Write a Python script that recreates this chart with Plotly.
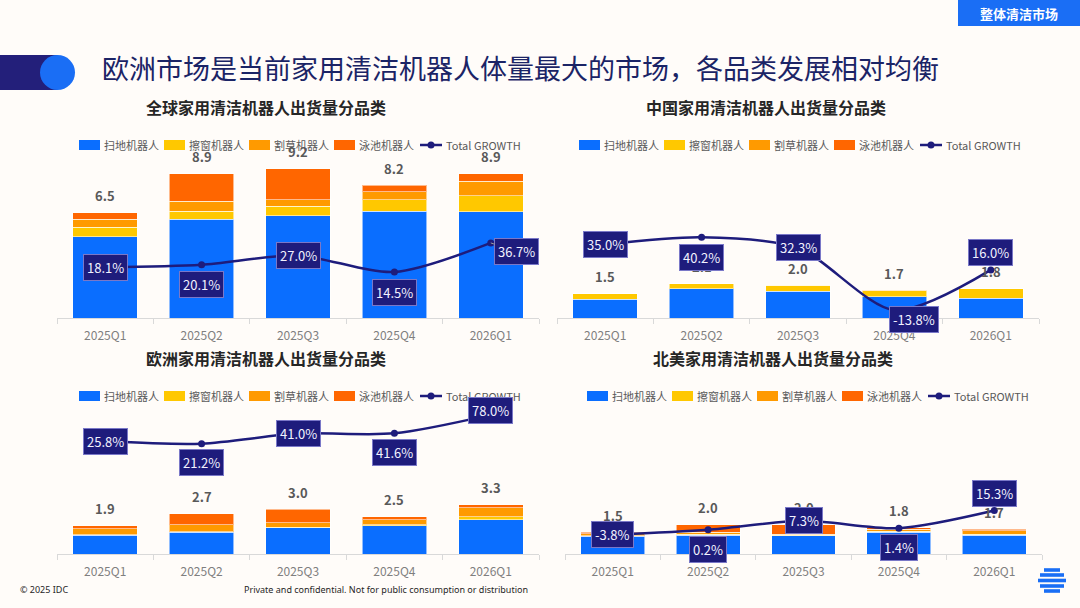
import plotly.graph_objects as go

W, H = 1080, 608
FONT = "Noto Sans CJK SC"

quarters = ["2025Q1", "2025Q2", "2025Q3", "2025Q4", "2026Q1"]
series_names = ["扫地机器人", "擦窗机器人", "割草机器人", "泳池机器人"]
series_colors = ["#0A6EFF", "#FFC800", "#FF9A00", "#FF6600"]

# 全球 (shipments, million units)
global_floor = [5.0, 6.1, 6.3, 6.6, 6.55]
global_window = [0.6, 0.5, 0.6, 0.7, 1.0]
global_lawn = [0.5, 0.6, 0.4, 0.5, 0.9]
global_pool = [0.4, 1.7, 1.9, 0.4, 0.45]
global_total = [6.5, 8.9, 9.2, 8.2, 8.9]
global_growth = [18.1, 20.1, 27.0, 14.5, 36.7]

# 中国
china_floor = [1.15, 1.8, 1.65, 1.3, 1.2]
china_window = [0.35, 0.3, 0.35, 0.38, 0.6]
china_lawn = [0.0, 0.0, 0.0, 0.02, 0.0]
china_pool = [0.0, 0.0, 0.0, 0.0, 0.0]
china_total = [1.5, 2.1, 2.0, 1.7, 1.8]
china_growth = [35.0, 40.2, 32.3, -13.8, 16.0]

# 欧洲
europe_floor = [1.25, 1.45, 1.75, 1.9, 2.3]
europe_window = [0.05, 0.05, 0.05, 0.05, 0.2]
europe_lawn = [0.4, 0.45, 0.3, 0.35, 0.6]
europe_pool = [0.2, 0.75, 0.9, 0.2, 0.2]
europe_total = [1.9, 2.7, 3.0, 2.5, 3.3]
europe_growth = [25.8, 21.2, 41.0, 41.6, 78.0]

# 北美
na_floor = [1.2, 1.3, 1.25, 1.5, 1.3]
na_window = [0.05, 0.05, 0.05, 0.05, 0.05]
na_lawn = [0.15, 0.15, 0.05, 0.15, 0.25]
na_pool = [0.1, 0.5, 0.65, 0.1, 0.1]
na_total = [1.5, 2.0, 2.0, 1.8, 1.7]
na_growth = [-3.8, 0.2, 7.3, 1.4, 15.3]

panels = [
    dict(title="全球家用清洁机器人出货量分品类",
         series=[global_floor, global_window, global_lawn, global_pool],
         total=global_total, growth=global_growth,
         px=(57, 539), py=(155, 318), y1=(0, 10.06), y2=(-20.6, 103.8),
         title_x=266, title_y=107, legend_x=79, legend_y=145,
         lab_shift=[(0, 0), (0, -20), (0, 0), (0, -20), (26, -9)],
         leader=[False, False, False, False, True]),
    dict(title="中国家用清洁机器人出货量分品类",
         series=[china_floor, china_window, china_lawn, china_pool],
         total=china_total, growth=china_growth,
         px=(557, 1039), py=(155, 318), y1=(0, 10.0), y2=(-19.6, 101.1),
         title_x=766, title_y=107, legend_x=579, legend_y=145,
         lab_shift=[(0, 0), (0, -20), (0, 0), (20, -9), (0, 17)],
         leader=[False] * 5),
    dict(title="欧洲家用清洁机器人出货量分品类",
         series=[europe_floor, europe_window, europe_lawn, europe_pool],
         total=europe_total, growth=europe_growth,
         px=(57, 539), py=(400, 554), y1=(0, 10.34), y2=(-196.4, 107.3),
         title_x=266, title_y=358, legend_x=79, legend_y=396,
         lab_shift=[(0, 0), (0, -19), (0, 0), (0, -19), (0, 4)],
         leader=[False] * 5),
    dict(title="北美家用清洁机器人出货量分品类",
         series=[na_floor, na_window, na_lawn, na_pool],
         total=na_total, growth=na_growth,
         px=(565, 1042), py=(400, 554), y1=(0, 10.55), y2=(-18.9, 102.4),
         title_x=773, title_y=358, legend_x=587, legend_y=396,
         lab_shift=[(0, 0), (0, -20), (0, 0), (0, -19), (0, 17)],
         leader=[False] * 5),
]

NAVY = "#1E1C7C"
LEGEND_STEP = 85


def px_rect(x0, y0, x1, y1, color, kind="rect"):
    return dict(type=kind, xref="paper", yref="paper",
                x0=x0 / W, x1=x1 / W, y0=1 - y1 / H, y1=1 - y0 / H,
                fillcolor=color, line=dict(width=0), layer="below")


def px_text(text, x, y, size, color, anchor="left", family=FONT):
    return dict(text=text, x=x / W, y=1 - y / H, xref="paper", yref="paper",
                xanchor=anchor, yanchor="middle", showarrow=False,
                font=dict(size=size, color=color, family=family))


fig = go.Figure()
layout = {}
annotations = []
shapes = []

for i, p in enumerate(panels):
    xa = "x" if i == 0 else f"x{i + 1}"
    ya = "y" if i == 0 else f"y{2 * i + 1}"
    ya2 = f"y{2 * i + 2}"
    for name, vals, col in zip(series_names, p["series"], series_colors):
        fig.add_trace(go.Bar(
            x=quarters, y=vals, name=name, marker_color=col,
            marker_line=dict(color="rgba(255,255,255,0.55)", width=1),
            xaxis=xa, yaxis=ya, showlegend=False, hoverinfo="skip"))
    fig.add_trace(go.Scatter(
        x=quarters, y=p["growth"], name="Total GROWTH", mode="lines+markers",
        line=dict(color=NAVY, width=2.5, shape="spline", smoothing=0.8),
        marker=dict(size=7, color=NAVY), xaxis=xa, yaxis=ya2,
        showlegend=False))

    xd = [p["px"][0] / W, p["px"][1] / W]
    yd = [1 - p["py"][1] / H, 1 - p["py"][0] / H]
    layout["xaxis" if i == 0 else f"xaxis{i + 1}"] = dict(
        domain=xd, anchor=ya, type="category", range=[-0.5, 4.5],
        showline=True, linecolor="#D9D9D9", linewidth=1,
        ticks="outside", tickson="boundaries", ticklen=5, tickcolor="#D9D9D9",
        ticklabelstandoff=7,
        tickfont=dict(size=12, color="#7F7F7F", family=FONT),
        showgrid=False, zeroline=False)
    layout["yaxis" if i == 0 else f"yaxis{2 * i + 1}"] = dict(
        domain=yd, anchor=xa, range=list(p["y1"]), visible=False)
    layout[f"yaxis{2 * i + 2}"] = dict(
        domain=yd, anchor=xa, overlaying=ya, range=list(p["y2"]),
        visible=False)

    # legend row drawn by hand to keep the compact spacing of the original
    lx, ly = p["legend_x"], p["legend_y"]
    for k, (name, col) in enumerate(zip(series_names, series_colors)):
        x0 = lx + k * LEGEND_STEP
        shapes.append(px_rect(x0, ly - 5, x0 + 21, ly + 5, col))
        annotations.append(px_text(name, x0 + 23, ly, 11, "#595959"))
    x0 = lx + 4 * LEGEND_STEP + 1
    shapes.append(dict(type="line", xref="paper", yref="paper",
                       x0=x0 / W, x1=(x0 + 22) / W, y0=1 - ly / H, y1=1 - ly / H,
                       line=dict(color=NAVY, width=2.5), layer="below"))
    shapes.append(px_rect(x0 + 7.5, ly - 3.5, x0 + 14.5, ly + 3.5, NAVY, "circle"))
    annotations.append(px_text("Total GROWTH", x0 + 24, ly, 11, "#595959"))

    annotations.append(px_text(f"<b>{p['title']}</b>", p["title_x"],
                               p["title_y"], 16, "#262626", "center"))

    for q, t in zip(quarters, p["total"]):
        annotations.append(dict(
            text=f"<b>{t:.1f}</b>", x=q, y=t, xref=xa, yref=ya,
            showarrow=False, yshift=17,
            font=dict(size=13, color="#595959", family=FONT)))

    for q, g, (dx, dy), lead in zip(quarters, p["growth"], p["lab_shift"],
                                     p["leader"]):
        box = dict(
            text=f"{g:.1f}%", x=q, y=g, xref=xa, yref=ya2,
            font=dict(size=13, color="#F2F2FF", family=FONT),
            bgcolor=NAVY, bordercolor="#7A78C8", borderwidth=1, borderpad=3)
        if lead:
            box.update(showarrow=True, arrowhead=0, arrowwidth=1,
                       arrowcolor="#9A9A9A", ax=dx, ay=-dy, standoff=0)
        else:
            box.update(showarrow=False, xshift=dx, yshift=dy)
        annotations.append(box)

# header title, tag and footer
annotations.append(px_text(
    "欧洲市场是当前家用清洁机器人体量最大的市场，各品类发展相对均衡",
    100, 68, 27, "#1B2466"))
annotations.append(px_text("<b>整体清洁市场</b>", 1019, 13, 13, "white", "center"))
annotations.append(px_text("© 2025 IDC", 18, 589, 9, "#262626",
                           family="Liberation Sans Narrow, Noto Sans"))
annotations.append(px_text(
    "Private and confidential. Not for public consumption or distribution",
    242, 589, 9, "#262626", family="Liberation Sans Narrow, Noto Sans"))

shapes += [
    px_rect(958, 0, 1080, 26, "#1A6EF5"),
    px_rect(0, 55, 58, 90, "#231F7A"),
    px_rect(40, 55, 75, 90, "#1A6EF5", "circle"),
]
# striped logo
for cy, half in [(570, 8), (575, 12), (580.5, 14), (586, 12), (591, 8)]:
    shapes.append(px_rect(1052 - half, cy - 1.8, 1052 + half, cy + 1.8, "#1A6EF5"))

fig.update_layout(
    width=W, height=H, margin=dict(l=0, r=0, t=0, b=0),
    paper_bgcolor="#FFFCF9", plot_bgcolor="#FFFCF9",
    barmode="stack", bargap=0.33, showlegend=False,
    font=dict(family=FONT), annotations=annotations, shapes=shapes,
    **layout)

fig.write_html("out.html", config={"displayModeBar": False},
               post_script="document.body.style.margin='0';")
